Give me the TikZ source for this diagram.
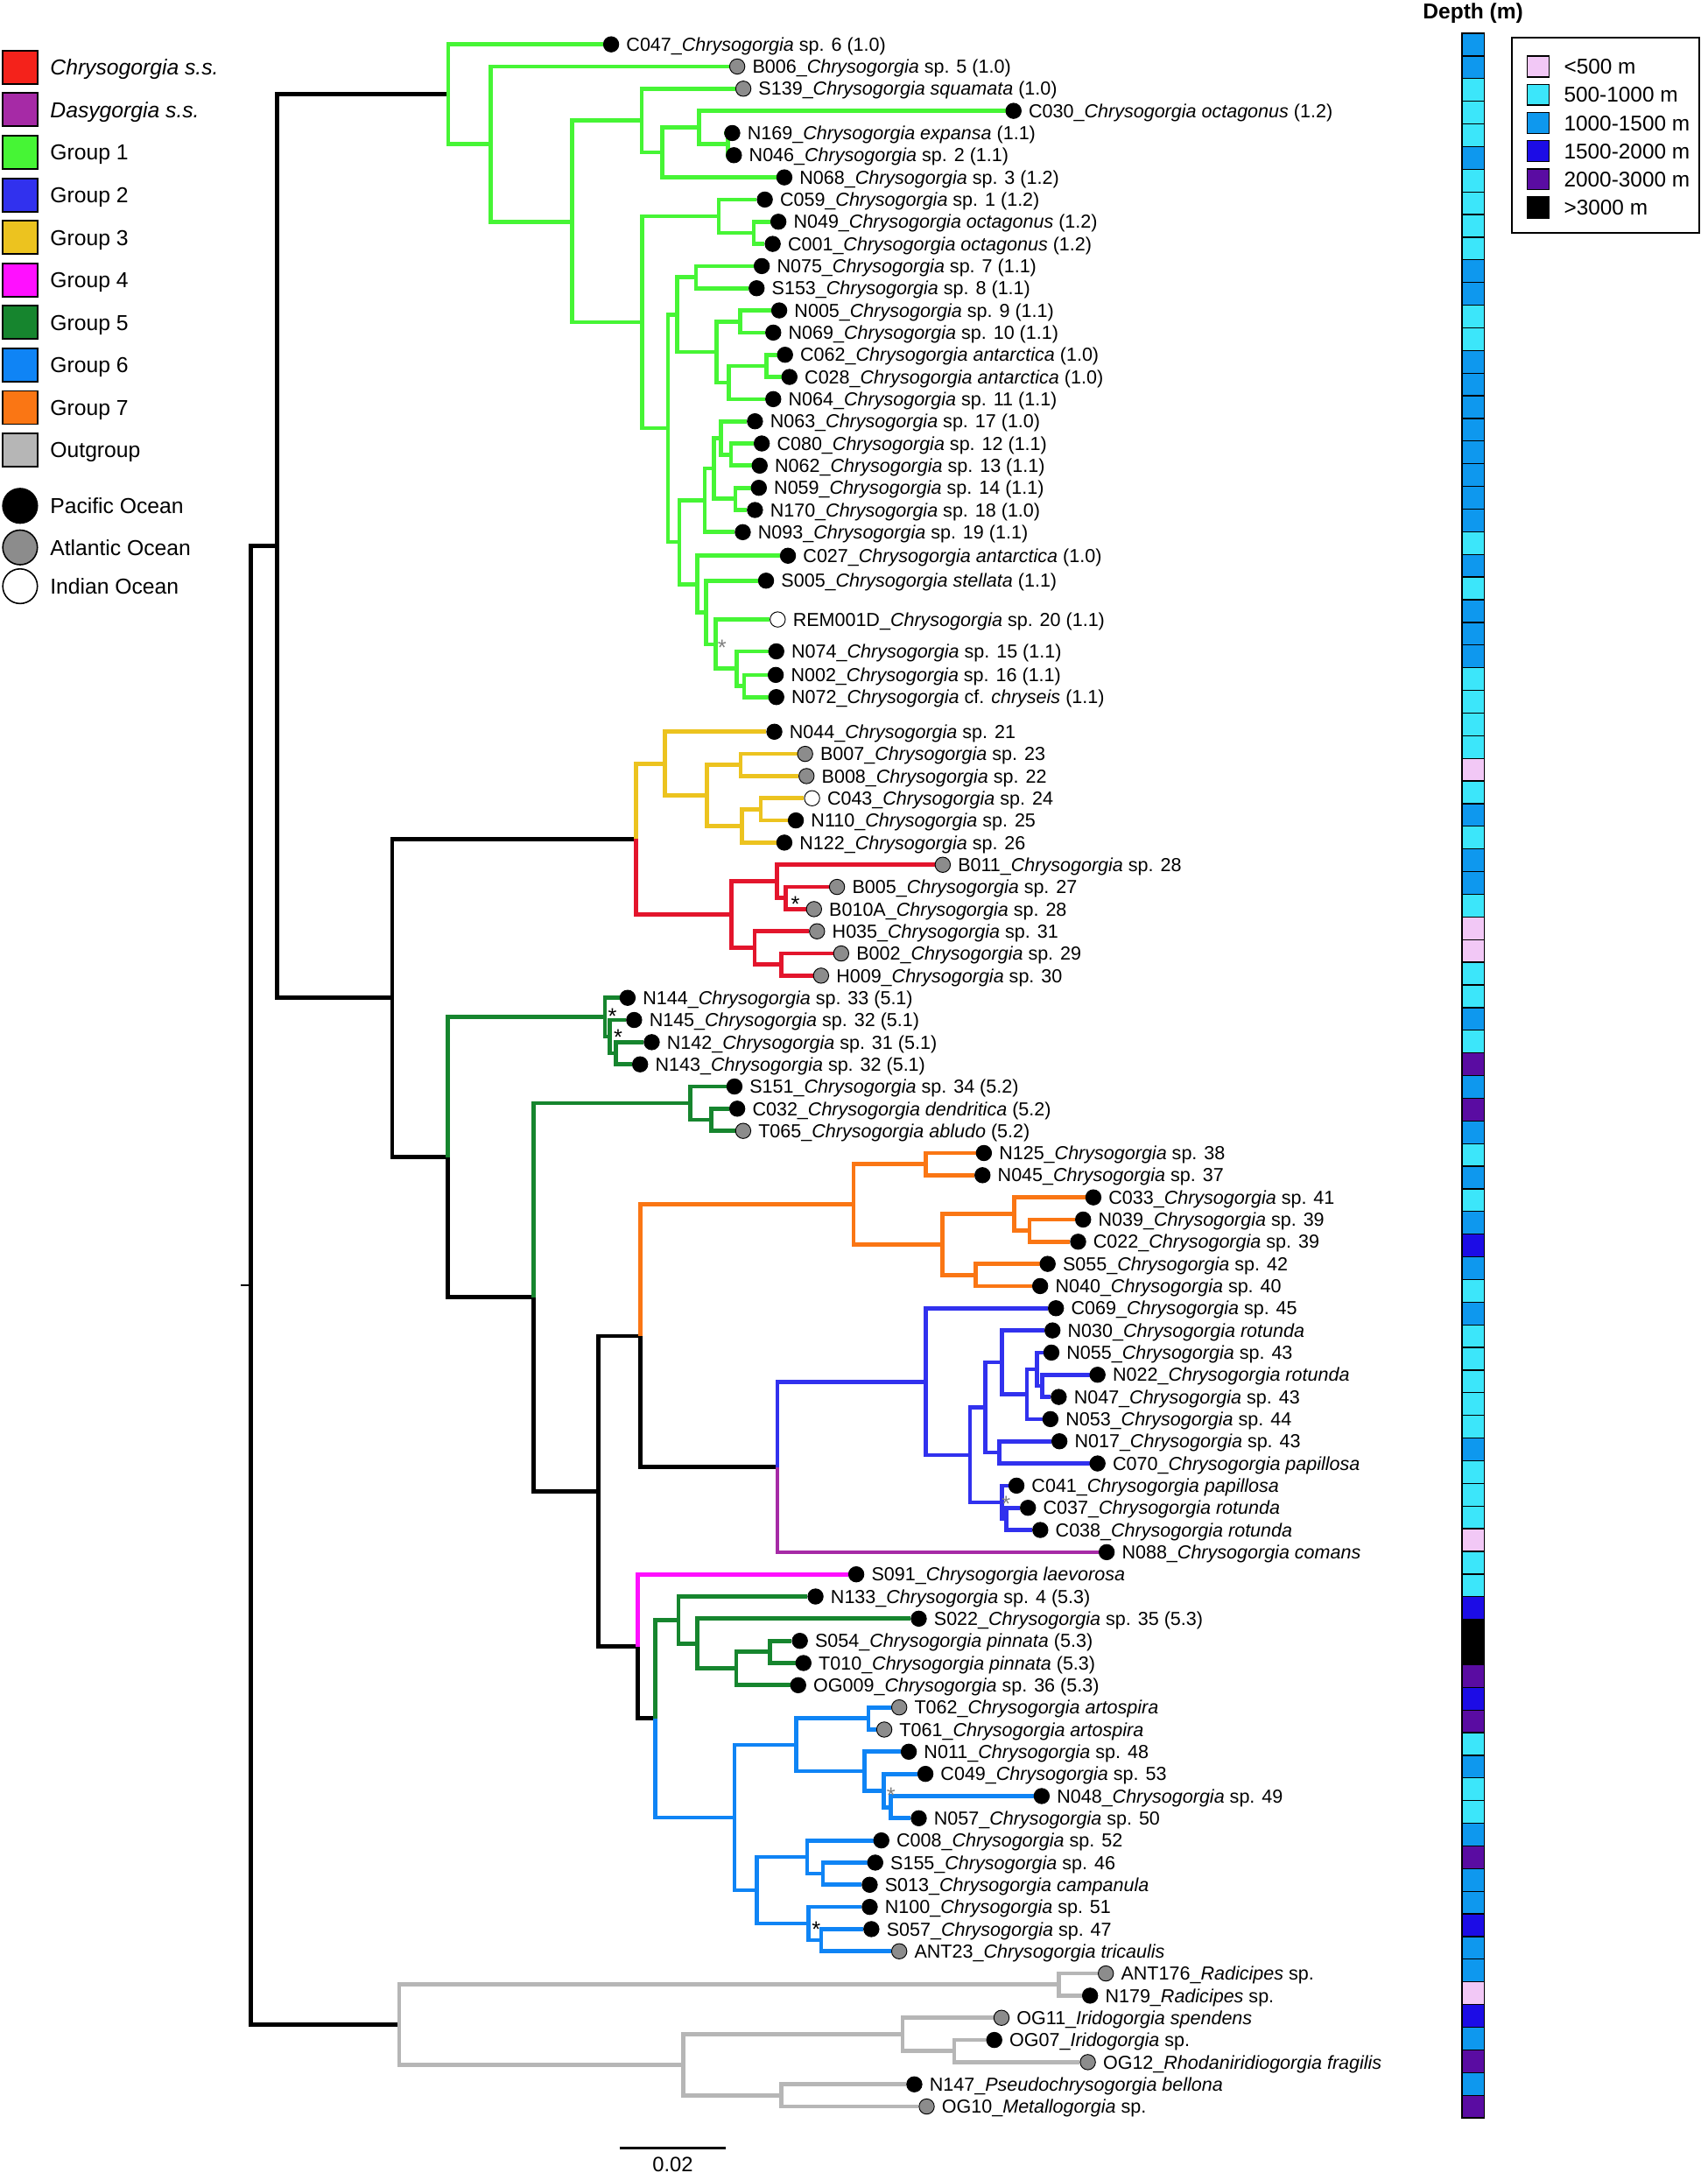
\documentclass[tikz,border=0pt]{standalone}
\usepackage{fontspec}
\setmainfont{Liberation Sans}
\usetikzlibrary{positioning}

\definecolor{chrys}{HTML}{E3152C}
\definecolor{chryslg}{HTML}{F4221B}
\definecolor{dasy}{HTML}{A62AA6}
\definecolor{grpone}{HTML}{46F535}
\definecolor{grptwo}{HTML}{3131EE}
\definecolor{grpthree}{HTML}{ECC31F}
\definecolor{grpfour}{HTML}{FF10FF}
\definecolor{grpfive}{HTML}{16852E}
\definecolor{grpsix}{HTML}{0F84F5}
\definecolor{grpseven}{HTML}{FA7614}
\definecolor{outgr}{HTML}{B6B6B6}
\definecolor{atlgray}{HTML}{8C8C8C}
\definecolor{dA}{HTML}{F2C8F6}
\definecolor{dB}{HTML}{3CE6FA}
\definecolor{dC}{HTML}{0E98EE}
\definecolor{dD}{HTML}{1C0CE6}
\definecolor{dE}{HTML}{5A0CA2}
\definecolor{dF}{HTML}{000000}

\pgfdeclarelayer{bg}
\pgfsetlayers{bg,main}

\newcommand{\Chry}{\textit{Chrysogorgia}}
\newcommand{\tipsize}{\fontsize{13.6}{16}\selectfont}
\newcommand{\legsize}{\fontsize{15.6}{18}\selectfont}
% tip: name, x, y, ocean, label
\newcommand{\tip}[5]{%
  \node[#4] (#1) at (#2,#3) {};
  \node[tiplab, right=5pt of #1] (#1l) {#5};}

\begin{document}
\begin{tikzpicture}[x=1pt, y=-1pt,
    br/.style={line width=3pt},
    pac/.style={circle, draw=black, line width=0.6pt, fill=black, minimum size=11pt, inner sep=0pt},
    atl/.style={pac, fill=atlgray},
    ind/.style={pac, fill=white},
    tiplab/.style={font=\tipsize, inner sep=0pt, text height=9.7pt, text depth=0pt},
    lgsw/.style={draw=black, line width=1.2pt, minimum width=25pt, minimum height=24pt, inner sep=0pt},
    ocean/.style={circle, draw=black, line width=1pt, minimum size=25pt, inner sep=0pt},
    lgtxt/.style={font=\legsize, inner sep=0pt, text height=11.2pt, text depth=0pt},
    dpsw/.style={draw=black, line width=0.9pt, minimum width=16pt, minimum height=15pt, inner sep=0pt},
    dptxt/.style={font=\fontsize{15.4}{18}\selectfont, inner sep=0pt, text height=11pt, text depth=0pt},
    astb/.style={font=\fontsize{16}{18}\selectfont, inner sep=0pt, anchor=base},
    astg/.style={astb, text=gray}]

\begin{pgfonlayer}{bg}
\fill[white] (0,0) rectangle (1232,1568);
\end{pgfonlayer}
\useasboundingbox (0,0) rectangle (1232,1568);

% legend, groups
\foreach \col/\txt [count=\k from 0] in {chryslg/{\textit{Chrysogorgia s.s.}}, dasy/{\textit{Dasygorgia s.s.}},
    grpone/Group 1, grptwo/Group 2, grpthree/Group 3, grpfour/Group 4, grpfive/Group 5,
    grpsix/Group 6, grpseven/Group 7, outgr/Outgroup} {
  \node[lgsw, fill=\col] (lg\k) at (14.5,{48.5+30.7*\k}) {};
  \node[lgtxt, right=8.5pt of lg\k] (lgt\k) {\txt};
}
% legend, oceans
\node[ocean, fill=black] (oc1) at (14.5,365) {};
\node[ocean, fill=atlgray] (oc2) at (14.5,395) {};
\node[ocean, fill=white] (oc3) at (14.5,423) {};
\node[lgtxt, right=8.5pt of oc1] (oct1) {Pacific Ocean};
\node[lgtxt, right=8.5pt of oc2] (oct2) {Atlantic Ocean};
\node[lgtxt, right=8.5pt of oc3] (oct3) {Indian Ocean};

% depth column
\node[font=\bfseries\fontsize{15.5}{18}\selectfont, anchor=base, inner sep=0pt] (dephead) at (1063,13.5) {Depth (m)};
\foreach \dc [count=\i from 0] in {dC,dC,dB,dB,dB,dC,dB,dB,dB,dB,
    dC,dC,dB,dB,dC,dC,dC,dC,dC,dC,
    dC,dC,dB,dC,dB,dC,dC,dC,dB,dB,
    dB,dB,dA,dB,dC,dB,dC,dC,dB,dA,
    dA,dB,dB,dC,dB,dE,dC,dE,dC,dB,
    dC,dB,dC,dD,dC,dB,dC,dB,dB,dB,
    dB,dB,dC,dB,dB,dB,dA,dB,dB,dD,
    dF,dF,dE,dD,dE,dB,dC,dB,dB,dC,
    dE,dC,dC,dD,dC,dC,dA,dD,dC,dE,
    dC,dE}
  \draw[line width=0.8pt, fill=\dc] (1055,{24+16.35*\i}) rectangle ++(16,16.35);
\draw[line width=1pt] (1055,24) rectangle (1071,1528.2);

% depth legend
\draw[line width=1.3pt] (1091,27) rectangle (1226,168);
\foreach \dc/\txt [count=\k from 0] in {dA/<500 m, dB/500-1000 m, dC/1000-1500 m,
    dD/1500-2000 m, dE/2000-3000 m, dF/>3000 m} {
  \node[dpsw, fill=\dc] (dp\k) at (1110,{48+20.35*\k}) {};
  \node[dptxt, right=10pt of dp\k] (dpt\k) {\txt};
}

% internal nodes
\coordinate (rs) at (174,927.5);
\coordinate (r) at (181,927.5);
\coordinate (a) at (200,394);
\coordinate (out) at (288,1461);
\coordinate (b) at (283,720);
\coordinate (c) at (459,605.5);
\coordinate (d) at (323,835);
\coordinate (f) at (385,936);
\coordinate (g) at (432,1076);
\coordinate (h) at (462,964);
\coordinate (i) at (460,1188);
\coordinate (j) at (473,1240);
\coordinate (k) at (561,1058.5);
% group 1
\coordinate (g1) at (323.5,68);
\coordinate (g1a) at (354,104);
\coordinate (g1b) at (413,160);
\coordinate (g1c) at (463,87);
\coordinate (g1d) at (478,110);
\coordinate (g1e) at (504.4,92);
\coordinate (g1f) at (525.3,104);
\coordinate (g1g) at (463.5,232.5);
\coordinate (g1h) at (518.6,156);
\coordinate (g1i) at (544,168);
\coordinate (g1j) at (482,309);
\coordinate (g1k) at (488.6,227);
\coordinate (g1l) at (502.3,200);
\coordinate (g1m) at (517,254);
\coordinate (g1n) at (534.3,232);
\coordinate (g1o) at (526,276);
\coordinate (g1p) at (553,264);
\coordinate (g1q) at (490.3,391);
\coordinate (g1r) at (508.6,361);
\coordinate (g1s) at (515,338);
\coordinate (g1t) at (520.2,316);
\coordinate (g1u) at (527.5,328);
\coordinate (g1v) at (530.7,360);
\coordinate (g1w) at (503.3,421.5);
\coordinate (g1x) at (509.7,442);
\coordinate (g1y) at (516.4,465);
\coordinate (g1z) at (531.8,482.5);
\coordinate (g1aa) at (537,495);
% group 3 and Chrysogorgia s.s.
\coordinate (y1) at (480,551);
\coordinate (y2) at (510,574);
\coordinate (y3) at (534.5,552);
\coordinate (y4) at (535.6,596);
\coordinate (y5) at (549,584);
\coordinate (r1) at (528,660);
\coordinate (r2) at (560.6,636);
\coordinate (r3) at (567,648);
\coordinate (r4) at (544.6,684);
\coordinate (r5) at (564,696);
% group 5
\coordinate (e5) at (436.6,734);
\coordinate (e5a) at (440.2,748);
\coordinate (e5b) at (444.5,760);
\coordinate (s5) at (498,796);
\coordinate (s5a) at (513.5,808);
\coordinate (n5) at (489.6,1169);
\coordinate (n5a) at (503,1186);
\coordinate (n5b) at (531.3,1204);
\coordinate (n5c) at (555.5,1192);
% group 7
\coordinate (o) at (616,869);
\coordinate (o1) at (668,840);
\coordinate (o2) at (680,898);
\coordinate (o3) at (732,876);
\coordinate (o4) at (743,888);
\coordinate (o5) at (704,920);
% group 2
\coordinate (b2) at (668,997);
\coordinate (b2a) at (700,1050);
\coordinate (b2b) at (711,1015.5);
\coordinate (b2c) at (723,983);
\coordinate (b2d) at (741,1006);
\coordinate (b2e) at (748.5,988);
\coordinate (b2f) at (752,1000);
\coordinate (b2g) at (721,1048);
\coordinate (b2h) at (723,1084);
\coordinate (b2i) at (726,1096);
% group 6
\coordinate (b6) at (530,1311.5);
\coordinate (b6a) at (574.4,1259);
\coordinate (b6b) at (626.7,1240);
\coordinate (b6c) at (624,1278);
\coordinate (b6d) at (637.7,1292);
\coordinate (b6e) at (643,1304);
\coordinate (b6f) at (546.2,1364);
\coordinate (b6g) at (582.5,1340);
\coordinate (b6h) at (593.8,1352);
\coordinate (b6i) at (583.3,1388);
\coordinate (b6j) at (592.6,1400);
% outgroup
\coordinate (rad) at (764,1432);
\coordinate (out2) at (493,1490);
\coordinate (out3) at (651.4,1468);
\coordinate (out4) at (688.6,1480);
\coordinate (out5) at (564,1512);

% tips
\tip{c047}{441}{32}{pac}{C047\_\Chry{} sp. 6 (1.0)}
\tip{b006}{532}{48}{atl}{B006\_\Chry{} sp. 5 (1.0)}
\tip{s139}{536.4}{64}{atl}{S139\_\textit{Chrysogorgia squamata} (1.0)}
\tip{c030}{731.4}{80}{pac}{C030\_\textit{Chrysogorgia octagonus} (1.2)}
\tip{n169}{528.4}{96}{pac}{N169\_\textit{Chrysogorgia expansa} (1.1)}
\tip{n046}{529.6}{112}{pac}{N046\_\Chry{} sp. 2 (1.1)}
\tip{n068}{566}{128}{pac}{N068\_\Chry{} sp. 3 (1.2)}
\tip{c059}{551.9}{144}{pac}{C059\_\Chry{} sp. 1 (1.2)}
\tip{n049}{561.7}{160}{pac}{N049\_\textit{Chrysogorgia octagonus} (1.2)}
\tip{c001}{557.6}{176}{pac}{C001\_\textit{Chrysogorgia octagonus} (1.2)}
\tip{n075}{549.7}{192}{pac}{N075\_\Chry{} sp. 7 (1.1)}
\tip{s153}{546}{208}{pac}{S153\_\Chry{} sp. 8 (1.1)}
\tip{n005}{562.3}{224}{pac}{N005\_\Chry{} sp. 9 (1.1)}
\tip{n069}{558}{240}{pac}{N069\_\Chry{} sp. 10 (1.1)}
\tip{c062}{566.5}{256}{pac}{C062\_\textit{Chrysogorgia antarctica} (1.0)}
\tip{c028}{569.7}{272}{pac}{C028\_\textit{Chrysogorgia antarctica} (1.0)}
\tip{n064}{558}{288}{pac}{N064\_\Chry{} sp. 11 (1.1)}
\tip{n063}{544.8}{304}{pac}{N063\_\Chry{} sp. 17 (1.0)}
\tip{c080}{549.7}{320}{pac}{C080\_\Chry{} sp. 12 (1.1)}
\tip{n062}{548.2}{336}{pac}{N062\_\Chry{} sp. 13 (1.1)}
\tip{n059}{547.6}{352}{pac}{N059\_\Chry{} sp. 14 (1.1)}
\tip{n170}{544.8}{368}{pac}{N170\_\Chry{} sp. 18 (1.0)}
\tip{n093}{536}{384}{pac}{N093\_\Chry{} sp. 19 (1.1)}
\tip{c027}{568.6}{401}{pac}{C027\_\textit{Chrysogorgia antarctica} (1.0)}
\tip{s005}{552.8}{419}{pac}{S005\_\textit{Chrysogorgia stellata} (1.1)}
\tip{rem001d}{561.2}{447}{ind}{REM001D\_\Chry{} sp. 20 (1.1)}
\tip{n074}{560.2}{470}{pac}{N074\_\Chry{} sp. 15 (1.1)}
\tip{n002}{559.8}{487}{pac}{N002\_\Chry{} sp. 16 (1.1)}
\tip{n072}{560.2}{503}{pac}{N072\_\Chry{} cf. \textit{chryseis} (1.1)}
\tip{n044}{558.8}{528}{pac}{N044\_\Chry{} sp. 21}
\tip{b007}{581}{544}{atl}{B007\_\Chry{} sp. 23}
\tip{b008}{582}{560}{atl}{B008\_\Chry{} sp. 22}
\tip{c043}{586}{576}{ind}{C043\_\Chry{} sp. 24}
\tip{n110}{574.3}{592}{pac}{N110\_\Chry{} sp. 25}
\tip{n122}{566}{608}{pac}{N122\_\Chry{} sp. 26}
\tip{b011}{680.3}{624}{atl}{B011\_\Chry{} sp. 28}
\tip{b005}{604}{640}{atl}{B005\_\Chry{} sp. 27}
\tip{b010a}{587.4}{656}{atl}{B010A\_\Chry{} sp. 28}
\tip{h035}{589.6}{672}{atl}{H035\_\Chry{} sp. 31}
\tip{b002}{607}{688}{atl}{B002\_\Chry{} sp. 29}
\tip{h009}{592.5}{704}{atl}{H009\_\Chry{} sp. 30}
\tip{n144}{452.9}{720}{pac}{N144\_\Chry{} sp. 33 (5.1)}
\tip{n145}{457.6}{736}{pac}{N145\_\Chry{} sp. 32 (5.1)}
\tip{n142}{470.3}{752}{pac}{N142\_\Chry{} sp. 31 (5.1)}
\tip{n143}{461.9}{768}{pac}{N143\_\Chry{} sp. 32 (5.1)}
\tip{s151}{530}{784}{pac}{S151\_\Chry{} sp. 34 (5.2)}
\tip{c032}{532}{800}{pac}{C032\_\textit{Chrysogorgia dendritica} (5.2)}
\tip{t065}{536.3}{816}{atl}{T065\_\textit{Chrysogorgia abludo} (5.2)}
\tip{n125}{710}{832}{pac}{N125\_\Chry{} sp. 38}
\tip{n045}{709}{848}{pac}{N045\_\Chry{} sp. 37}
\tip{c033}{789}{864}{pac}{C033\_\Chry{} sp. 41}
\tip{n039}{781.6}{880}{pac}{N039\_\Chry{} sp. 39}
\tip{c022}{778}{896}{pac}{C022\_\Chry{} sp. 39}
\tip{s055}{756}{912}{pac}{S055\_\Chry{} sp. 42}
\tip{n040}{750.6}{928}{pac}{N040\_\Chry{} sp. 40}
\tip{c069}{762}{944}{pac}{C069\_\Chry{} sp. 45}
\tip{n030}{759.5}{960}{pac}{N030\_\textit{Chrysogorgia rotunda}}
\tip{n055}{758.7}{976}{pac}{N055\_\Chry{} sp. 43}
\tip{n022}{792}{992}{pac}{N022\_\textit{Chrysogorgia rotunda}}
\tip{n047}{764}{1008}{pac}{N047\_\Chry{} sp. 43}
\tip{n053}{758}{1024}{pac}{N053\_\Chry{} sp. 44}
\tip{n017}{764.5}{1040}{pac}{N017\_\Chry{} sp. 43}
\tip{c070}{792}{1056}{pac}{C070\_\textit{Chrysogorgia papillosa}}
\tip{c041}{733.5}{1072}{pac}{C041\_\textit{Chrysogorgia papillosa}}
\tip{c037}{741.8}{1088}{pac}{C037\_\textit{Chrysogorgia rotunda}}
\tip{c038}{750.7}{1104}{pac}{C038\_\textit{Chrysogorgia rotunda}}
\tip{n088}{798.6}{1120}{pac}{N088\_\textit{Chrysogorgia comans}}
\tip{s091}{617.9}{1136}{pac}{S091\_\textit{Chrysogorgia laevorosa}}
\tip{n133}{588.5}{1152}{pac}{N133\_\Chry{} sp. 4 (5.3)}
\tip{s022}{663}{1168}{pac}{S022\_\Chry{} sp. 35 (5.3)}
\tip{s054}{577.2}{1184}{pac}{S054\_\textit{Chrysogorgia pinnata} (5.3)}
\tip{t010}{579.8}{1200}{pac}{T010\_\textit{Chrysogorgia pinnata} (5.3)}
\tip{og009}{576}{1216}{pac}{OG009\_\Chry{} sp. 36 (5.3)}
\tip{t062}{648.9}{1232}{atl}{T062\_\textit{Chrysogorgia artospira}}
\tip{t061}{638.1}{1248}{atl}{T061\_\textit{Chrysogorgia artospira}}
\tip{n011}{655.8}{1264}{pac}{N011\_\Chry{} sp. 48}
\tip{c049}{667.8}{1280}{pac}{C049\_\Chry{} sp. 53}
\tip{n048}{751.7}{1296}{pac}{N048\_\Chry{} sp. 49}
\tip{n057}{663}{1312}{pac}{N057\_\Chry{} sp. 50}
\tip{c008}{636}{1328}{pac}{C008\_\Chry{} sp. 52}
\tip{s155}{631.6}{1344}{pac}{S155\_\Chry{} sp. 46}
\tip{s013}{627.6}{1360}{pac}{S013\_\textit{Chrysogorgia campanula}}
\tip{n100}{627.6}{1376}{pac}{N100\_\Chry{} sp. 51}
\tip{s057}{628.8}{1392}{pac}{S057\_\Chry{} sp. 47}
\tip{ant23}{648.9}{1408}{atl}{ANT23\_\textit{Chrysogorgia tricaulis}}
\tip{ant176}{798}{1424}{atl}{ANT176\_\textit{Radicipes} sp.}
\tip{n179}{786.6}{1440}{pac}{N179\_\textit{Radicipes} sp.}
\tip{og11}{722.7}{1456}{atl}{OG11\_\textit{Iridogorgia spendens}}
\tip{og07}{717.5}{1472}{pac}{OG07\_\textit{Iridogorgia} sp.}
\tip{og12}{785}{1488}{atl}{OG12\_\textit{Rhodaniridiogorgia fragilis}}
\tip{n147}{659.8}{1504}{pac}{N147\_\textit{Pseudochrysogorgia bellona}}
\tip{og10}{668.7}{1520}{atl}{OG10\_\textit{Metallogorgia} sp.}

% branches
\begin{pgfonlayer}{bg}
\draw[line width=1.5pt] (rs) -- (r);
\foreach \p/\q in {r/a, r/out, a/g1, a/b, b/c, b/d, d/f, f/g, g/h, g/i, h/k, i/j}
  \draw[br, black] (\p) |- (\q);
\foreach \p/\q in {g1/c047, g1/g1a, g1a/b006, g1a/g1b, g1b/g1c, g1b/g1g, g1c/s139, g1c/g1d,
    g1d/g1e, g1d/n068, g1e/c030, g1e/g1f, g1f/n169, g1f/n046, g1g/g1h, g1g/g1j, g1h/c059,
    g1h/g1i, g1i/n049, g1i/c001, g1j/g1k, g1j/g1q, g1k/g1l, g1k/g1m, g1l/n075, g1l/s153,
    g1m/g1n, g1m/g1o, g1n/n005, g1n/n069, g1o/g1p, g1o/n064, g1p/c062, g1p/c028, g1q/g1r,
    g1q/g1w, g1r/g1s, g1r/n093, g1s/g1t, g1s/g1v, g1t/n063, g1t/g1u, g1u/c080, g1u/n062,
    g1v/n059, g1v/n170, g1w/c027, g1w/g1x, g1x/s005, g1x/g1y, g1y/rem001d, g1y/g1z,
    g1z/n074, g1z/g1aa, g1aa/n002, g1aa/n072}
  \draw[br, grpone] (\p) |- (\q);
\foreach \p/\q in {c/y1, y1/n044, y1/y2, y2/y3, y2/y4, y3/b007, y3/b008, y4/y5, y4/n122, y5/c043, y5/n110}
  \draw[br, grpthree] (\p) |- (\q);
\foreach \p/\q in {c/r1, r1/r2, r1/r4, r2/b011, r2/r3, r3/b005, r3/b010a, r4/h035, r4/r5, r5/b002, r5/h009}
  \draw[br, chrys] (\p) |- (\q);
\foreach \p/\q in {d/e5, e5/n144, e5/e5a, e5a/n145, e5a/e5b, e5b/n142, e5b/n143, f/s5, s5/s151,
    s5/s5a, s5a/c032, s5a/t065, j/n5, n5/n133, n5/n5a, n5a/s022, n5a/n5b, n5b/n5c, n5b/og009,
    n5c/s054, n5c/t010}
  \draw[br, grpfive] (\p) |- (\q);
\foreach \p/\q in {h/o, o/o1, o/o2, o1/n125, o1/n045, o2/o3, o2/o5, o3/c033, o3/o4, o4/n039, o4/c022, o5/s055, o5/n040}
  \draw[br, grpseven] (\p) |- (\q);
\foreach \p/\q in {k/b2, b2/c069, b2/b2a, b2a/b2b, b2a/b2h, b2b/b2c, b2b/b2g, b2c/n030, b2c/b2d,
    b2d/b2e, b2d/n053, b2e/n055, b2e/b2f, b2f/n022, b2f/n047, b2g/n017, b2g/c070, b2h/c041,
    b2h/b2i, b2i/c037, b2i/c038}
  \draw[br, grptwo] (\p) |- (\q);
\draw[br, dasy] (k) |- (n088);
\draw[br, grpfour] (i) |- (s091);
\foreach \p/\q in {j/b6, b6/b6a, b6/b6f, b6a/b6b, b6a/b6c, b6b/t062, b6b/t061, b6c/n011, b6c/b6d,
    b6d/c049, b6d/b6e, b6e/n048, b6e/n057, b6f/b6g, b6f/b6i, b6g/c008, b6g/b6h, b6h/s155,
    b6h/s013, b6i/n100, b6i/b6j, b6j/s057, b6j/ant23}
  \draw[br, grpsix] (\p) |- (\q);
\foreach \p/\q in {out/rad, out/out2, rad/ant176, rad/n179, out2/out3, out2/out5, out3/og11,
    out3/out4, out4/og07, out4/og12, out5/n147, out5/og10}
  \draw[br, outgr] (\p) |- (\q);
\end{pgfonlayer}

% support marks
\node[astb] (ast1) at (442,739) {*};
\node[astb] (ast2) at (446,754) {*};
\node[astb] (ast3) at (574,658) {*};
\node[astb] (ast4) at (589,1398) {*};
\node[astg] (ast5) at (521,473) {*};
\node[astg] (ast6) at (726,1091) {*};
\node[astg] (ast7) at (643,1301) {*};

% scale bar
\coordinate (sbl) at (447,1550);
\coordinate (sbr) at (524,1550);
\draw[line width=1.5pt] (sbl) -- (sbr);
\node[font=\fontsize{15}{18}\selectfont, anchor=base, inner sep=0pt] (sbt) at (485.5,1567) {0.02};
\end{tikzpicture}
\end{document}
